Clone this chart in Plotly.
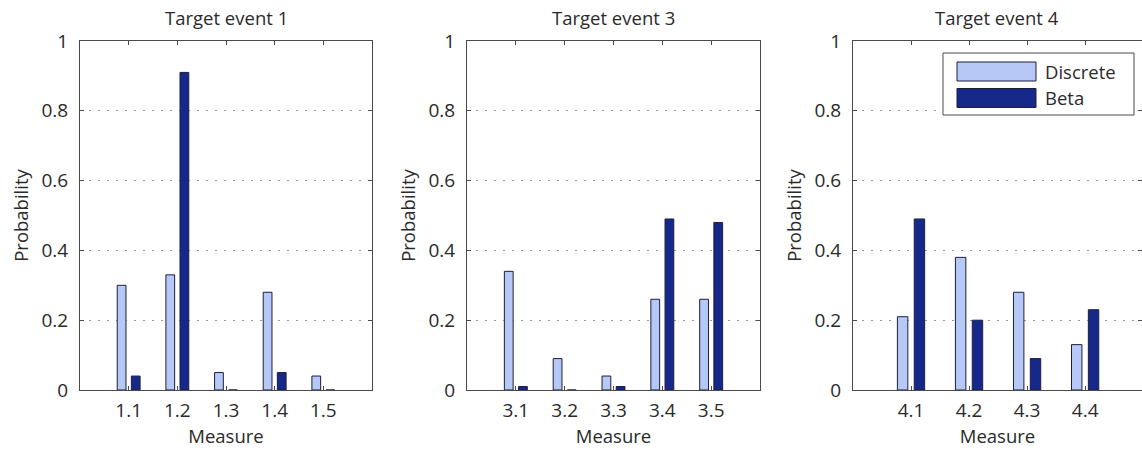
import plotly.graph_objects as go

# ---- data ----
SERIES = ["Discrete", "Beta"]
TITLES = ["Target event 1", "Target event 3", "Target event 4"]
CATS_1 = ["1.1", "1.2", "1.3", "1.4", "1.5"]
DISCRETE_1 = [0.30, 0.33, 0.05, 0.28, 0.04]
BETA_1 = [0.04, 0.91, 0.00, 0.05, 0.00]
CATS_3 = ["3.1", "3.2", "3.3", "3.4", "3.5"]
DISCRETE_3 = [0.34, 0.09, 0.04, 0.26, 0.26]
BETA_3 = [0.01, 0.00, 0.01, 0.49, 0.48]
CATS_4 = ["4.1", "4.2", "4.3", "4.4"]
DISCRETE_4 = [0.21, 0.38, 0.28, 0.13]
BETA_4 = [0.49, 0.20, 0.09, 0.23]
Y_TICKS = [0, 0.2, 0.4, 0.6, 0.8, 1]
Y_TICK_TEXT = ["0", "0.2", "0.4", "0.6", "0.8", "1"]
X_TITLE = "Measure"
Y_TITLE = "Probability"

# ---- style ----
W, H = 1142, 450
FONT = "Open Sans"
TXT = "#2a2a2a"
LIGHT = "#b5c8f6"
DARK = "#16298a"
EDGE = "#1c1f3c"
AXC = "#4a4a4a"
FS_TICK = 19
FS_LAB = 18.5
FS_TITLE = 18.5


def px(x):
    return x / W


def py(y):
    return 1 - y / H


panels = [(CATS_1, DISCRETE_1, BETA_1), (CATS_3, DISCRETE_3, BETA_3), (CATS_4, DISCRETE_4, BETA_4)]
# page-pixel boxes of plot areas (left, right)
xpix = [(80, 372), (467, 760), (853, 1142)]
ytop, ybot = 41, 390

fig = go.Figure()
layout = dict(
    width=W, height=H, autosize=False,
    margin=dict(l=0, r=0, t=0, b=0),
    paper_bgcolor="white", plot_bgcolor="white",
    barmode="group", bargap=0.42, bargroupgap=0.38,
    showlegend=False,
    font=dict(family=FONT, size=FS_TICK, color=TXT),
)
annotations = []
shapes = []
for i, (cats, disc, beta) in enumerate(panels):
    k = "" if i == 0 else str(i + 1)
    xa, ya = "x" + k, "y" + k
    fig.add_trace(go.Bar(x=cats, y=disc, name=SERIES[0], xaxis=xa, yaxis=ya,
                         marker=dict(color=LIGHT, line=dict(color=EDGE, width=1))))
    fig.add_trace(go.Bar(x=cats, y=beta, name=SERIES[1], xaxis=xa, yaxis=ya,
                         marker=dict(color=DARK, line=dict(color=EDGE, width=1))))
    l, r = xpix[i]
    n = len(cats)
    # panel 3 nominally extends ~1px past the page edge
    rng_hi = n if i < 2 else n - 0.02
    layout["xaxis" + k] = dict(
        domain=[px(l), min(px(r), 1.0)], anchor=ya, type="category",
        range=[-1, rng_hi], showline=True, mirror="ticks", linecolor=AXC, linewidth=1,
        ticks="inside", ticklen=4, tickcolor=AXC, showgrid=False, zeroline=False,
        ticklabelstandoff=3, tickfont=dict(size=FS_TICK), automargin=False,
        title=dict(text=X_TITLE, standoff=7, font=dict(size=FS_LAB)),
        fixedrange=True,
    )
    layout["yaxis" + k] = dict(
        domain=[py(ybot), py(ytop)], anchor=xa,
        range=[0, 1], tickvals=Y_TICKS, ticktext=Y_TICK_TEXT,
        showline=True, mirror="ticks", linecolor=AXC, linewidth=1,
        ticks="inside", ticklen=4, tickcolor=AXC,
        showgrid=True, gridcolor="#9a9a9a", griddash="2px,7px", gridwidth=1,
        zeroline=False, ticklabelstandoff=7, tickfont=dict(size=FS_TICK), automargin=False,
        title=dict(text=Y_TITLE, standoff=8, font=dict(size=FS_LAB)),
        fixedrange=True,
    )
    annotations.append(dict(text=TITLES[i], xref="paper", yref="paper",
                            x=px((l + min(r, 1140)) / 2), y=py(17), showarrow=False,
                            xanchor="center", yanchor="middle", font=dict(size=FS_TITLE)))

# legend box drawn in the third panel
shapes.append(dict(type="rect", xref="paper", yref="paper", x0=px(943), x1=px(1134),
                   y0=py(115), y1=py(53), line=dict(color=AXC, width=1), fillcolor="white", layer="above"))
for name, col, yc in [(SERIES[0], LIGHT, 71.5), (SERIES[1], DARK, 98)]:
    shapes.append(dict(type="rect", xref="paper", yref="paper", x0=px(957), x1=px(1036),
                       y0=py(yc + 9.5), y1=py(yc - 9.5), line=dict(color=EDGE, width=1),
                       fillcolor=col, layer="above"))
    annotations.append(dict(text=name, xref="paper", yref="paper", x=px(1043), y=py(yc),
                            xanchor="left", yanchor="middle", showarrow=False,
                            font=dict(size=FS_LAB)))

layout["annotations"] = annotations
layout["shapes"] = shapes
fig.update_layout(**layout)
fig.write_html(
    "out.html",
    config={"displayModeBar": False, "staticPlot": True},
    post_script="document.body.style.margin='0px';document.body.style.overflow='hidden';",
)
